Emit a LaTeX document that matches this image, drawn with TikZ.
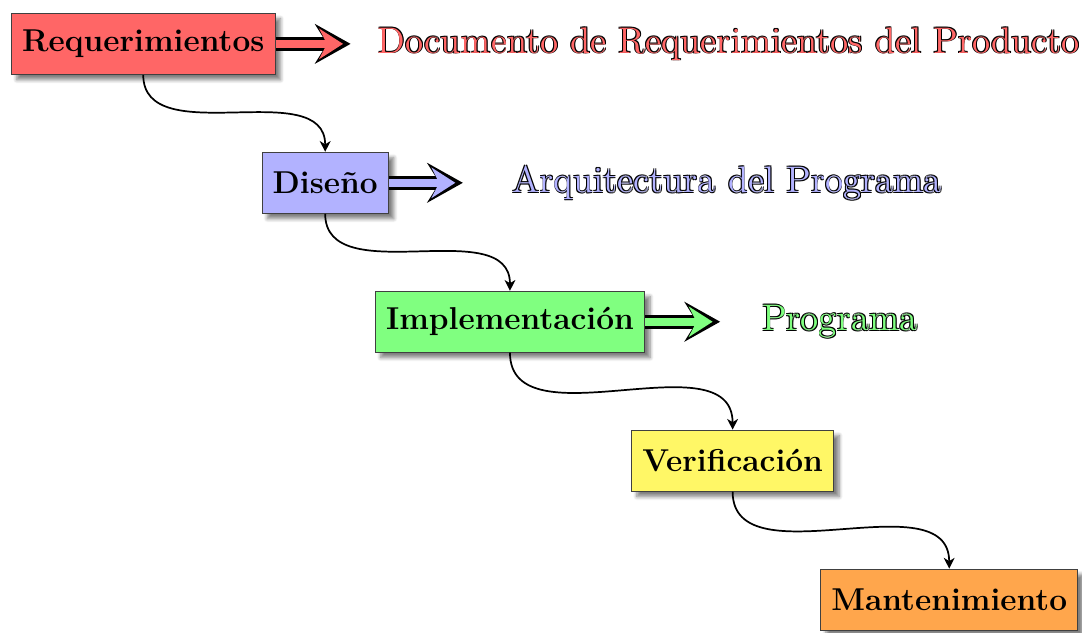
\documentclass[tikz,border=0pt]{standalone}
\usepackage{fontspec}
\newfontfamily\etiqueta{lmroman12-regular.otf}
\usepackage{tikz}
\usetikzlibrary{arrows, arrows.meta, calc, positioning, shadows.blur}
\tikzstyle{etapa} = [rectangle, draw=black!75, thin, minimum height=28.4pt, inner xsep=5pt, font=\fontsize{14.7pt}{17pt}\selectfont\bfseries, blur shadow={shadow xshift=2.5pt, shadow yshift=-2.5pt, shadow opacity=50, shadow blur steps=6}]
\tikzstyle{flecha} = [-{Stealth[length=0pt 2.6, width=0pt 2.9, inset=0pt 0.9]}, line width=1.3pt, double distance=3.8pt, draw=black]
\tikzstyle{nucleo} = [-{Stealth[length=11pt, width=14pt, inset=3.5pt]}, line width=3.8pt, shorten >=3.5pt]
\tikzstyle{conector} = [thick, -{Stealth[length=5pt, width=5pt, inset=1.5pt]}, out=-90, in=90]
\tikzstyle{salida} = [inner sep=0pt, font=\etiqueta\fontsize{17.2pt}{21pt}\selectfont, anchor=west]
\newcommand{\sombra}[3]{\makebox[0pt][l]{\kern#1\raisebox{#2}{\color{black}#3}}}
\newcommand{\contorno}[2]{\sombra{-.4pt}{-.4pt}{#2}\sombra{.4pt}{-.4pt}{#2}\sombra{-.4pt}{.4pt}{#2}\sombra{.4pt}{.4pt}{#2}\textcolor{#1}{#2}}

\begin{document}
\begin{tikzpicture}[node distance = 35.8pt and -6.5pt]
		\useasboundingbox (0,0) rectangle (503.1pt,-294.3pt);
		% etapas
		\node (Req) [etapa, fill=red!60, anchor=north west] at (5.1pt,-6pt) {Requerimientos};
		\node (Dis) [etapa, fill=blue!30, below right = of Req] {Dise\~no};
		\node (Imp) [etapa, fill=green!50, below right = of Dis] {Implementaci\'on};
		\node (Ver) [etapa, fill=yellow!60, below right = of Imp] {Verificaci\'on};
		\node (Man) [etapa, fill=orange!70, below right = of Ver] {Mantenimiento};
		% salidas
		\coordinate [right = 34.9pt of Req.east] (ReqTip);
		\coordinate [right = 34.4pt of Dis.east] (DisTip);
		\coordinate [right = 34.9pt of Imp.east] (ImpTip);
		\node (ReqDoc) [salida, right = 12.5pt of ReqTip] {\contorno{red!60}{Documento de Requerimientos del Producto}};
		\node (DisDoc) [salida, right = 23pt of DisTip] {\contorno{blue!30}{Arquitectura del Programa}};
		\node (ImpDoc) [salida, right = 19.3pt of ImpTip] {\contorno{green!50}{Programa}};
		\draw [flecha, double=red!60] (Req.east) -- (ReqTip);
		\draw [nucleo, red!60] (Req.east) -- (ReqTip);
		\draw [flecha, double=blue!30] (Dis.east) -- (DisTip);
		\draw [nucleo, blue!30] (Dis.east) -- (DisTip);
		\draw [flecha, double=green!50] (Imp.east) -- (ImpTip);
		\draw [nucleo, green!50] (Imp.east) -- (ImpTip);
		% conectores
		\draw [conector] (Req.south) to (Dis.north);
		\draw [conector] (Dis.south) to (Imp.north);
		\draw [conector] (Imp.south) to (Ver.north);
		\draw [conector] (Ver.south) to (Man.north);
\end{tikzpicture}
\end{document}
